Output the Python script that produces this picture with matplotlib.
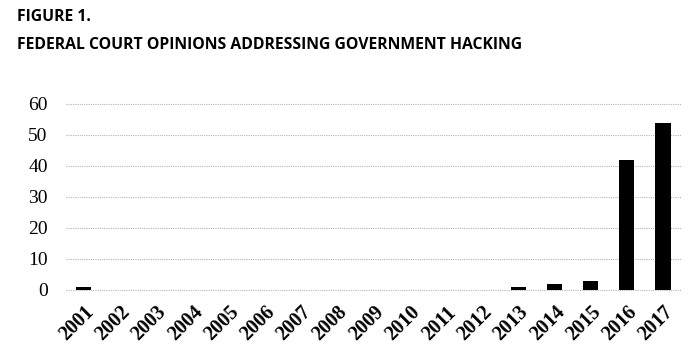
import matplotlib
matplotlib.use("Agg")
import matplotlib.pyplot as plt

years = ["2001", "2002", "2003", "2004", "2005", "2006", "2007", "2008", "2009",
         "2010", "2011", "2012", "2013", "2014", "2015", "2016", "2017"]
opinions = [1, 0, 0, 0, 0, 0, 0, 0, 0, 0, 0, 0, 1, 2, 3, 42, 54]
yticks = [0, 10, 20, 30, 40, 50, 60]

fig = plt.figure(figsize=(7, 3.61), dpi=100)
ax = fig.add_axes([0.094, 0.197, 0.879, 0.515])

x = range(len(years))
ax.bar(x, opinions, width=0.42, color="black", zorder=3)

ax.set_xlim(-0.5, len(years) - 0.5)
ax.set_ylim(0, 60)
ax.set_yticks(yticks)
ax.set_yticklabels([str(v) for v in yticks], fontfamily="Liberation Serif", fontsize=14)
ax.set_xticks(list(x))
ax.set_xticklabels(years, rotation=45, ha="right", rotation_mode="anchor",
                   fontfamily="Liberation Serif", fontweight="bold", fontsize=14.5)
ax.tick_params(axis="both", length=0)
ax.tick_params(axis="y", pad=13)
ax.tick_params(axis="x", pad=9)

for v in yticks:
    ax.axhline(v, color="#b5b5b5", linestyle=(0, (1, 1)), linewidth=0.8, zorder=1, clip_on=False)

for s in ax.spines.values():
    s.set_visible(False)

fig.text(0.024, 0.953, "FIGURE 1.", fontfamily="Open Sans", fontweight="bold",
         fontsize=11.3, va="center", ha="left")
fig.text(0.024, 0.875, "FEDERAL COURT OPINIONS ADDRESSING GOVERNMENT HACKING",
         fontfamily="Open Sans", fontweight="bold", fontsize=11.3, va="center", ha="left")

fig.savefig("out.png", dpi=100)
